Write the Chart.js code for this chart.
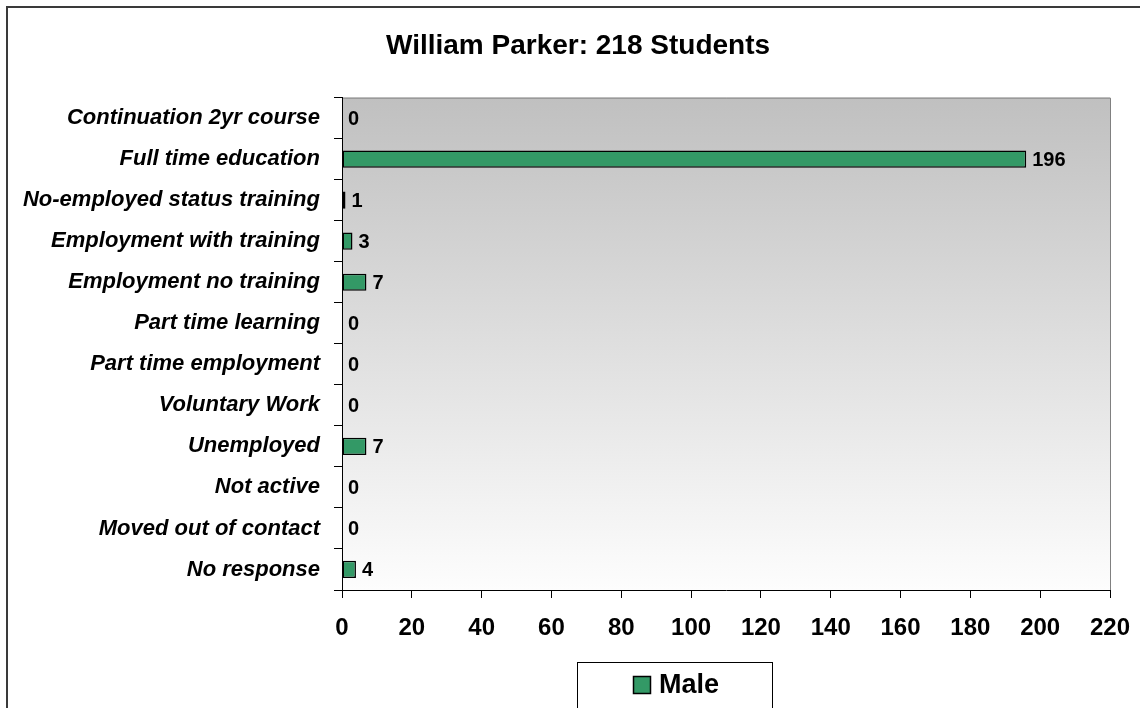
<!DOCTYPE html>
<html>
<head>
<meta charset="utf-8">
<title>William Parker: 218 Students</title>
<script src="https://cdn.jsdelivr.net/npm/chart.js@4/dist/chart.umd.min.js"></script>
<style>
  html, body { margin: 0; padding: 0; background: #fff; overflow: hidden; }
  #wrap { width: 1140px; height: 708px; position: relative; }
</style>
</head>
<body>
<div id="wrap"><canvas id="myChart"></canvas></div>
<script>
var categories = [
	"Continuation 2yr course",
	"Full time education",
	"No-employed status training",
	"Employment with training",
	"Employment no training",
	"Part time learning",
	"Part time employment",
	"Voluntary Work",
	"Unemployed",
	"Not active",
	"Moved out of contact",
	"No response"
];
var maleValues = [0, 196, 1, 3, 7, 0, 0, 0, 7, 0, 0, 4];
var seriesName = "Male";
var chartTitle = "William Parker: 218 Students";
var xMin = 0, xMax = 220, xStep = 20;

var FONT = "'Liberation Sans', Arial, sans-serif";
var GREEN = "#339966";

// grey-to-white plot background, outer frame
var backgroundPlugin = {
	id: 'background',
	beforeDraw: function (chart) {
		var ctx = chart.ctx, a = chart.chartArea;
		ctx.save();
		ctx.fillStyle = '#fff';
		ctx.fillRect(0, 0, chart.width, chart.height);
		ctx.strokeStyle = '#3a3a3a';
		ctx.lineWidth = 2;
		ctx.beginPath();
		ctx.moveTo(7, chart.height + 5);
		ctx.lineTo(7, 7);
		ctx.lineTo(chart.width + 5, 7);
		ctx.stroke();
		var g = ctx.createLinearGradient(0, a.top, 0, a.bottom);
		g.addColorStop(0, '#c0c0c0');
		g.addColorStop(1, '#fdfdfd');
		ctx.fillStyle = g;
		ctx.fillRect(a.left, a.top, a.right - a.left, a.bottom - a.top);
		ctx.strokeStyle = '#808080';
		ctx.lineWidth = 1;
		ctx.beginPath();
		ctx.moveTo(a.left, a.top + 0.5);
		ctx.lineTo(a.right + 0.5, a.top + 0.5);
		ctx.lineTo(a.right + 0.5, a.bottom);
		ctx.stroke();
		ctx.restore();
	}
};

// value labels to the right of each bar
var valueLabels = {
	id: 'valueLabels',
	afterDatasetsDraw: function (chart) {
		var ctx = chart.ctx;
		var meta = chart.getDatasetMeta(0);
		ctx.save();
		ctx.font = 'bold 20px ' + FONT;
		ctx.fillStyle = '#000';
		ctx.textAlign = 'left';
		ctx.textBaseline = 'middle';
		meta.data.forEach(function (bar, i) {
			ctx.fillText(String(chart.data.datasets[0].data[i]), bar.x + 6, bar.y + 1);
		});
		ctx.restore();
	}
};

// boxed legend below the axis
var boxLegend = {
	id: 'boxLegend',
	afterDraw: function (chart) {
		var ctx = chart.ctx;
		var ds = chart.data.datasets[0];
		ctx.save();
		ctx.fillStyle = '#fff';
		ctx.fillRect(577, 662, 195, 60);
		ctx.strokeStyle = '#000';
		ctx.lineWidth = 1;
		ctx.strokeRect(577.5, 662.5, 195, 60);
		ctx.fillStyle = ds.backgroundColor;
		ctx.fillRect(633, 676, 17, 17);
		ctx.lineWidth = 1.5;
		ctx.strokeRect(633.5, 676.5, 17, 17);
		ctx.fillStyle = '#000';
		ctx.font = 'bold 27px ' + FONT;
		ctx.textBaseline = 'middle';
		ctx.textAlign = 'left';
		ctx.fillText(ds.label, 659, 686);
		ctx.restore();
	}
};

var el = document.getElementById('myChart');
var myChart = new Chart(el, {
	type: 'bar',
	data: {
		labels: categories,
		datasets: [{
			label: seriesName,
			data: maleValues,
			backgroundColor: GREEN,
			borderColor: '#000',
			borderWidth: 1.5,
			borderSkipped: false,
			barPercentage: 0.42,
			categoryPercentage: 1.0
		}]
	},
	options: {
		indexAxis: 'y',
		responsive: true,
		maintainAspectRatio: false,
		animation: false,
		layout: { padding: { left: 16, right: 0, top: 0, bottom: 0 } },
		plugins: {
			legend: { display: false },
			tooltip: { enabled: false },
			title: {
				display: true,
				text: chartTitle,
				color: '#000',
				font: { family: FONT, size: 28, weight: 'bold' },
				padding: { top: 29, bottom: 35 }
			}
		},
		scales: {
			x: {
				min: xMin,
				max: xMax,
				afterFit: function (s) {
					s.height = 118;
					s.paddingLeft = 0;
					s.paddingRight = 0;
				},
				ticks: {
					stepSize: xStep,
					color: '#000',
					padding: 16,
					font: { family: FONT, size: 24, weight: 'bold' }
				},
				grid: { drawOnChartArea: false, tickLength: 8, color: '#000' },
				border: { display: true, color: '#000', width: 1 }
			},
			y: {
				afterFit: function (s) { s.width = 326; },
				ticks: {
					color: '#000',
					padding: 14,
					font: { family: FONT, size: 22, weight: 'bold', style: 'italic' }
				},
				grid: { drawOnChartArea: false, tickLength: 8, color: '#000', offset: true },
				border: { display: true, color: '#000', width: 1 }
			},
			// empty right-hand margin so the plot stops short of the edge
			spacer: {
				type: 'linear',
				position: 'right',
				display: true,
				afterFit: function (s) { s.width = 30; },
				ticks: { display: false },
				grid: { display: false },
				border: { display: false }
			}
		}
	},
	plugins: [backgroundPlugin, valueLabels, boxLegend]
});
</script>
</body>
</html>
